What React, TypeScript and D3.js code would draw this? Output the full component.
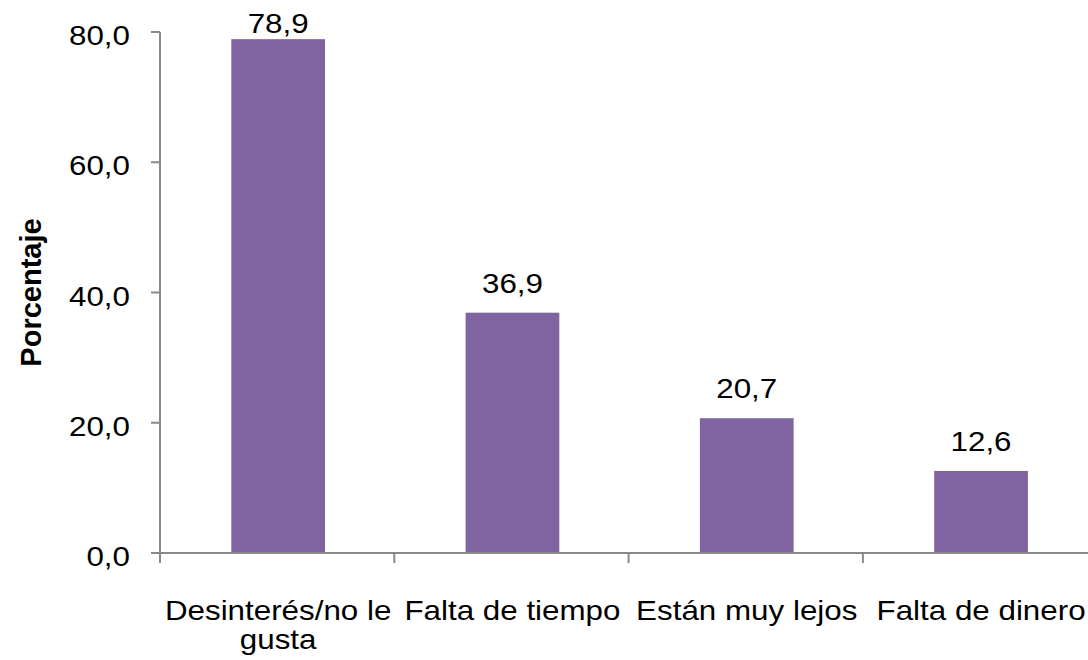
import React from "react";
import * as d3 from "d3";

const categories = ["Desinterés/no le gusta", "Falta de tiempo", "Están muy lejos", "Falta de dinero"];
const categoryLines = [["Desinterés/no le", "gusta"], ["Falta de tiempo"], ["Están muy lejos"], ["Falta de dinero"]];
const values = [78.9, 36.9, 20.7, 12.6];
const yTicks = [0, 20, 40, 60, 80];
const yTitle = "Porcentaje";

const W = 1088;
const H = 660;
const left = 160;
const top = 32;
const bottom = 553;
const step = 234.3;
const SX = 1.12;
const FONT = "'Liberation Sans', Arial, sans-serif";
const AXIS = "#898989";
const BAR = "#8064A2";

const fmt = (v: number) => d3.format(".1f")(v).replace(".", ",");

export default function App() {
  const x = d3
    .scaleBand<string>()
    .domain(categories)
    .range([left, left + step * categories.length])
    .paddingInner(0.6)
    .paddingOuter(0.3);
  const y = d3.scaleLinear().domain([0, 80]).range([bottom, top]);
  const bounds = [0, 1, 2, 3, 4].map((i) => left + i * x.step());

  return (
    <svg width={W} height={H} style={{ position: "absolute", left: 0, top: 0, background: "#fff" }}>
      <rect width={W} height={H} fill="#fff" />
      {categories.map((c, i) => (
        <rect key={c} x={(x(c) as number) + 1} y={y(values[i])} width={x.bandwidth()} height={bottom - y(values[i])} fill={BAR} />
      ))}
      {/* y axis */}
      <line x1={left} x2={left} y1={y(80)} y2={bottom} stroke={AXIS} strokeWidth={2} />
      {yTicks.map((t) => (
        <g key={t}>
          <line x1={left - 9} x2={left} y1={y(t)} y2={y(t)} stroke={AXIS} strokeWidth={2} />
          <text
            transform={`translate(130,${y(t) + 13}) scale(${SX},1)`}
            textAnchor="end"
            fontFamily={FONT}
            fontSize={28}
            fill="#000"
          >
            {fmt(t)}
          </text>
        </g>
      ))}
      {/* x axis */}
      <line x1={left - 9} x2={W} y1={bottom} y2={bottom} stroke={AXIS} strokeWidth={2} />
      {bounds.map((b, i) => (
        <line key={i} x1={b} x2={b} y1={bottom} y2={bottom + 10} stroke={AXIS} strokeWidth={2} />
      ))}
      {categories.map((c, i) => (
        <text
          key={c}
          transform={`translate(${(x(c) as number) + x.bandwidth() / 2 + 1},620) scale(${SX},1)`}
          textAnchor="middle"
          fontFamily={FONT}
          fontSize={28}
          fill="#000"
        >
          {categoryLines[i].map((l, j) => (
            <tspan key={j} x={0} dy={j === 0 ? 0 : 29}>
              {l}
            </tspan>
          ))}
        </text>
      ))}
      {/* data labels */}
      {categories.map((c, i) => (
        <text
          key={c}
          transform={`translate(${(x(c) as number) + x.bandwidth() / 2 + 1},${Math.max(y(values[i]) - 20, 33)}) scale(${SX},1)`}
          textAnchor="middle"
          fontFamily={FONT}
          fontSize={28}
          fill="#000"
        >
          {fmt(values[i])}
        </text>
      ))}
      <text
        transform={`translate(41,${(top + bottom) / 2}) rotate(-90)`}
        textAnchor="middle"
        fontFamily={FONT}
        fontSize={29}
        fontWeight="bold"
        fill="#000"
      >
        {yTitle}
      </text>
    </svg>
  );
}
